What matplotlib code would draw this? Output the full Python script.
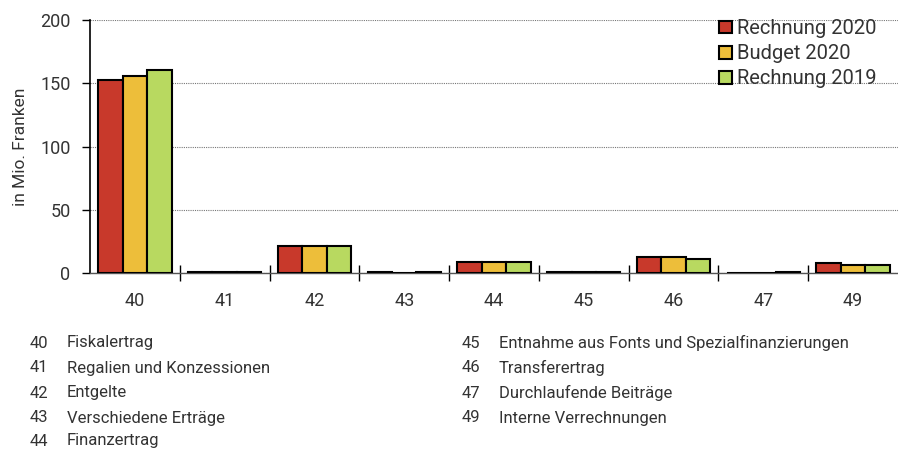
import matplotlib
matplotlib.use("Agg")
import matplotlib.pyplot as plt
import numpy as np

plt.rcParams['font.family'] = ['Roboto', 'DejaVu Sans']

categories = ["40", "41", "42", "43", "44", "45", "46", "47", "49"]
series_names = ["Rechnung 2020", "Budget 2020", "Rechnung 2019"]
rechnung_2020 = [152.6, 0.5, 21.6, 0.5, 9.0, 0.5, 13.0, 0.0, 7.7]
budget_2020 = [155.5, 0.5, 21.6, 0.2, 9.0, 0.5, 13.0, 0.0, 6.3]
rechnung_2019 = [160.5, 0.5, 21.6, 0.5, 9.0, 0.5, 11.4, 0.6, 6.3]
colors = ["#C8392B", "#EDBE3A", "#B8D960"]

desc_left = [("40", "Fiskalertrag"), ("41", "Regalien und Konzessionen"),
             ("42", "Entgelte"), ("43", "Verschiedene Erträge"), ("44", "Finanzertrag")]
desc_right = [("45", "Entnahme aus Fonts und Spezialfinanzierungen"),
              ("46", "Transferertrag"), ("47", "Durchlaufende Beiträge"),
              ("49", "Interne Verrechnungen")]

W, H = 898, 450
fig = plt.figure(figsize=(W / 100, H / 100), dpi=100)
ax = fig.add_axes([90 / W, 1 - 273 / H, (W - 90) / W, (273 - 20) / H])

x = np.arange(len(categories))
bw = 0.272
for i, (vals, c, name) in enumerate(zip([rechnung_2020, budget_2020, rechnung_2019], colors, series_names)):
    ax.bar(x + (i - 1) * bw, vals, width=bw, color=c, edgecolor="black", linewidth=1.5,
           label=name, zorder=3)

ax.set_xlim(-0.5, len(categories) - 0.5)
ax.set_ylim(0, 200)
ax.set_yticks([0, 50, 100, 150, 200])
ax.tick_params(axis="y", direction="out", length=6, width=1, colors="black", labelsize=13,
               labelcolor="#333333", pad=8)
ax.yaxis.grid(True, linestyle=(0, (1, 1)), color="#777777", linewidth=0.8, zorder=0)
ax.set_axisbelow(True)

ax.set_xticks(x)
ax.set_xticklabels(categories)
ax.tick_params(axis="x", which="major", length=0, labelsize=13, labelcolor="#333333", pad=14)
ax.set_xticks(np.arange(0.5, len(categories) - 0.5, 1), minor=True)
ax.tick_params(axis="x", which="minor", direction="inout", length=12, width=1, color="black")

for s in ["top", "right"]:
    ax.spines[s].set_visible(False)
ax.spines["left"].set_color("black")
ax.spines["left"].set_linewidth(1.2)
ax.spines["bottom"].set_color("#555555")
ax.spines["bottom"].set_linewidth(1)

ax.set_ylabel("in Mio. Franken", fontsize=12.5, color="#333333", labelpad=9)

leg = ax.legend(loc="upper right", bbox_to_anchor=(0.983, 1.035), frameon=False, fontsize=14.5,
                handlelength=0.6, handleheight=0.6, handletextpad=0.25, labelspacing=0.3,
                borderaxespad=0.0)
for t in leg.get_texts():
    t.set_color("#333333")

rows_y = [343, 368, 393, 418, 441]
for (num, txt), yy in zip(desc_left, rows_y):
    fig.text(30 / W, 1 - yy / H, num, fontsize=12, color="#333333", va="center", ha="left")
    fig.text(67 / W, 1 - yy / H, txt, fontsize=12, color="#333333", va="center", ha="left")
for (num, txt), yy in zip(desc_right, rows_y):
    fig.text(462 / W, 1 - yy / H, num, fontsize=12, color="#333333", va="center", ha="left")
    fig.text(499 / W, 1 - yy / H, txt, fontsize=12, color="#333333", va="center", ha="left")

fig.savefig("out.png", dpi=100)
